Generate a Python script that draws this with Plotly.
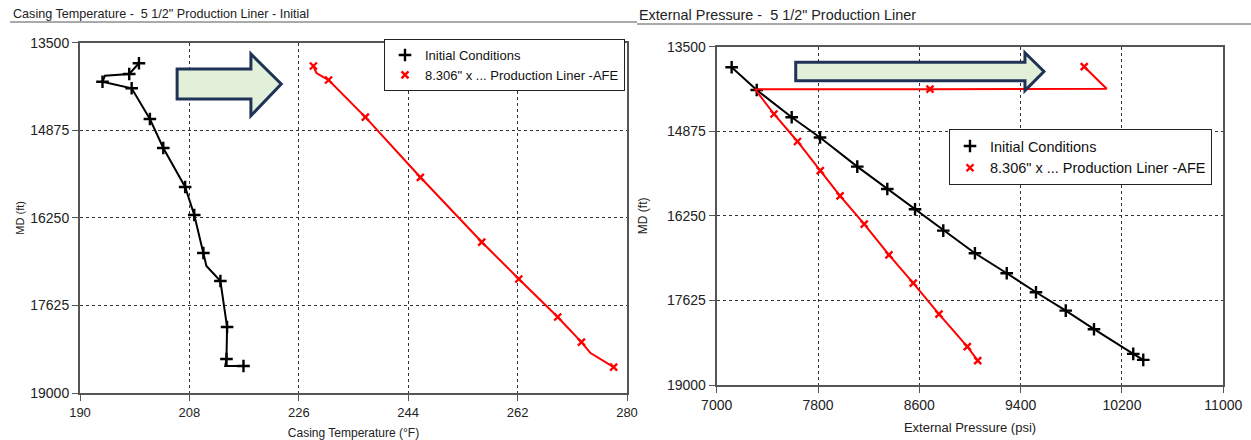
import plotly.graph_objects as go

# ---------------- data ----------------
# Left chart: Casing Temperature (°F) vs MD (ft)
temp_init = [199.7, 198.1, 194.1, 193.7, 198.5, 201.5, 203.7, 207.3, 208.8, 210.3, 210.8, 213.1, 214.2, 214.1, 213.9, 216.9]
md_temp_init = [13823, 13991, 14020, 14112, 14216, 14698, 15153, 15765, 16205, 16802, 17006, 17242, 17963, 18466, 18576, 18576]
temp_init_marked = [1, 1, 0, 1, 1, 1, 1, 1, 1, 1, 0, 1, 1, 1, 0, 1]

temp_afe = [228.4, 228.9, 230.9, 236.95, 246.0, 256.1, 262.2, 268.6, 272.5, 274.0, 277.8]
md_temp_afe = [13866, 13976, 14086, 14668, 15613, 16630, 17210, 17807, 18200, 18373, 18593]
temp_afe_marked = [1, 0, 1, 1, 1, 1, 1, 1, 1, 0, 1]

# Right chart: External Pressure (psi) vs MD (ft)
pres_init = [7118, 7316, 7592, 7816, 8110, 8347, 8566, 8789, 9039, 9290, 9521, 9756, 9979, 10289, 10368]
md_pres_init = [13835, 14204, 14647, 14976, 15450, 15813, 16143, 16490, 16858, 17183, 17492, 17791, 18093, 18494, 18592]

pres_afe = [9902, 10079, 8684, 7302, 7452, 7638, 7818, 7974, 8165, 8360, 8552, 8755, 8979, 9061]
md_pres_afe = [13825, 14183, 14190, 14190, 14594, 15041, 15515, 15926, 16386, 16885, 17345, 17849, 18376, 18603]
pres_afe_marked = [1, 0, 1, 0, 1, 1, 1, 1, 1, 1, 1, 1, 1, 1]

md_ticks = [13500, 14875, 16250, 17625, 19000]
temp_ticks = [190, 208, 226, 244, 262, 280]
pres_ticks = [7000, 7800, 8600, 9400, 10200, 11000]

name_init = "Initial Conditions"
name_afe = "8.306\" x ... Production Liner -AFE"
title_left = "Casing Temperature -\u00a0 5 1/2\" Production Liner - Initial"
title_right = "External Pressure -\u00a0 5 1/2\" Production Liner"

BLACK = "#000000"
RED = "#ff0000"
FONT = "Liberation Sans, Arial, sans-serif"

fig = go.Figure()


def add_series(x, y, marked, color, symbol, msize, name, xa, ya, legend):
    fig.add_trace(go.Scatter(x=x, y=y, mode="lines", line=dict(color=color, width=2),
                             xaxis=xa, yaxis=ya, showlegend=False, hoverinfo="skip"))
    mx = [v for v, m in zip(x, marked) if m]
    my = [v for v, m in zip(y, marked) if m]
    fig.add_trace(go.Scatter(x=mx, y=my, mode="markers", name=name,
                             marker=dict(symbol=symbol, size=msize, color=color,
                                         line=dict(color=color, width=2.4)),
                             xaxis=xa, yaxis=ya, legend=legend))


add_series(temp_init, md_temp_init, temp_init_marked, BLACK, "cross-thin", 9, name_init, "x", "y", "legend")
add_series(temp_afe, md_temp_afe, temp_afe_marked, RED, "x-thin", 7, name_afe, "x", "y", "legend")
add_series(pres_init, md_pres_init, [1] * len(pres_init), BLACK, "cross-thin", 9, name_init, "x2", "y2", "legend2")
add_series(pres_afe, md_pres_afe, pres_afe_marked, RED, "x-thin", 7, name_afe, "x2", "y2", "legend2")

W, H = 1251, 440

axis_common = dict(showgrid=True, gridcolor="#333333", griddash="3px,3px", gridwidth=1,
                   zeroline=False, showline=True, linecolor="#555555", linewidth=2,
                   mirror=True, ticks="outside", ticklen=6, tickcolor="#555555",
                   tickformat="d", automargin=False,
                   tickfont=dict(family=FONT, size=13, color="#222222"))

fig.update_layout(
    width=W, height=H, margin=dict(l=0, r=0, t=0, b=0, autoexpand=False),
    paper_bgcolor="white", plot_bgcolor="white",
    font=dict(family=FONT, color="#222222"),
    xaxis=dict(axis_common, domain=[80 / W, 627 / W], range=[190, 280], tickvals=temp_ticks,
               title=dict(text="Casing Temperature (°F)", font=dict(size=12), standoff=10),
               anchor="y"),
    yaxis=dict(axis_common, domain=[1 - 393 / H, 1 - 42.7 / H], range=[19000, 13500], tickvals=md_ticks,
               tickfont=dict(family=FONT, size=14, color="#222222"),
               title=dict(text="MD (ft)", font=dict(size=11), standoff=3), anchor="x"),
    xaxis2=dict(axis_common, domain=[716.7 / W, 1223.3 / W], range=[7000, 11000], tickvals=pres_ticks,
                tickfont=dict(family=FONT, size=14, color="#222222"),
                title=dict(text="External Pressure (psi)", font=dict(size=13), standoff=11),
                anchor="y2"),
    yaxis2=dict(axis_common, domain=[1 - 385 / H, 1 - 46.7 / H], range=[19000, 13500], tickvals=md_ticks,
                tickfont=dict(family=FONT, size=14, color="#222222"),
                title=dict(text="MD (ft)", font=dict(size=12), standoff=17), anchor="x2"),
    legend=dict(x=625 / W, y=1 - 39 / H, xanchor="right", yanchor="top",
                bgcolor="white", bordercolor="#222222", borderwidth=1,
                font=dict(family=FONT, size=13, color="#111111"), itemwidth=30,
                tracegroupgap=0),
    legend2=dict(x=1212 / W, y=1 - 129 / H, xanchor="right", yanchor="top",
                 bgcolor="white", bordercolor="#222222", borderwidth=1,
                 font=dict(family=FONT, size=14.5, color="#111111"), itemwidth=30,
                 tracegroupgap=0),
)

# Titles with underline
fig.add_annotation(text=title_left, x=11 / W, y=1 - 14 / H, xref="paper", yref="paper",
                   xanchor="left", yanchor="middle", showarrow=False,
                   font=dict(family=FONT, size=12.6, color="#222222"))
fig.add_annotation(text=title_right, x=637 / W, y=1 - 15 / H, xref="paper", yref="paper",
                   xanchor="left", yanchor="middle", showarrow=False,
                   font=dict(family=FONT, size=14.4, color="#222222"))
fig.add_shape(type="line", xref="paper", yref="paper", x0=10 / W, x1=637 / W,
              y0=1 - 22 / H, y1=1 - 22 / H, line=dict(color="#555555", width=1))
fig.add_shape(type="line", xref="paper", yref="paper", x0=637 / W, x1=1,
              y0=1 - 24 / H, y1=1 - 24 / H, line=dict(color="#555555", width=1))


def block_arrow(xref, yref, x_left, x_head, x_tip, y_btop, y_bbot, y_htop, y_hbot):
    y_mid = (y_btop + y_bbot) / 2
    path = (f"M {x_left},{y_btop} L {x_head},{y_btop} L {x_head},{y_htop} L {x_tip},{y_mid} "
            f"L {x_head},{y_hbot} L {x_head},{y_bbot} L {x_left},{y_bbot} Z")
    fig.add_shape(type="path", path=path, xref=xref, yref=yref,
                  fillcolor="#e2efd9", line=dict(color="#1f3356", width=3), layer="above")


block_arrow("x", "y", 205.98, 218.12, 223.11, 13913, 14384, 13677, 14646)
block_arrow("x2", "y2", 7624, 9434, 9584, 13754, 14053, 13598, 14215)

fig.write_html("out.html")
